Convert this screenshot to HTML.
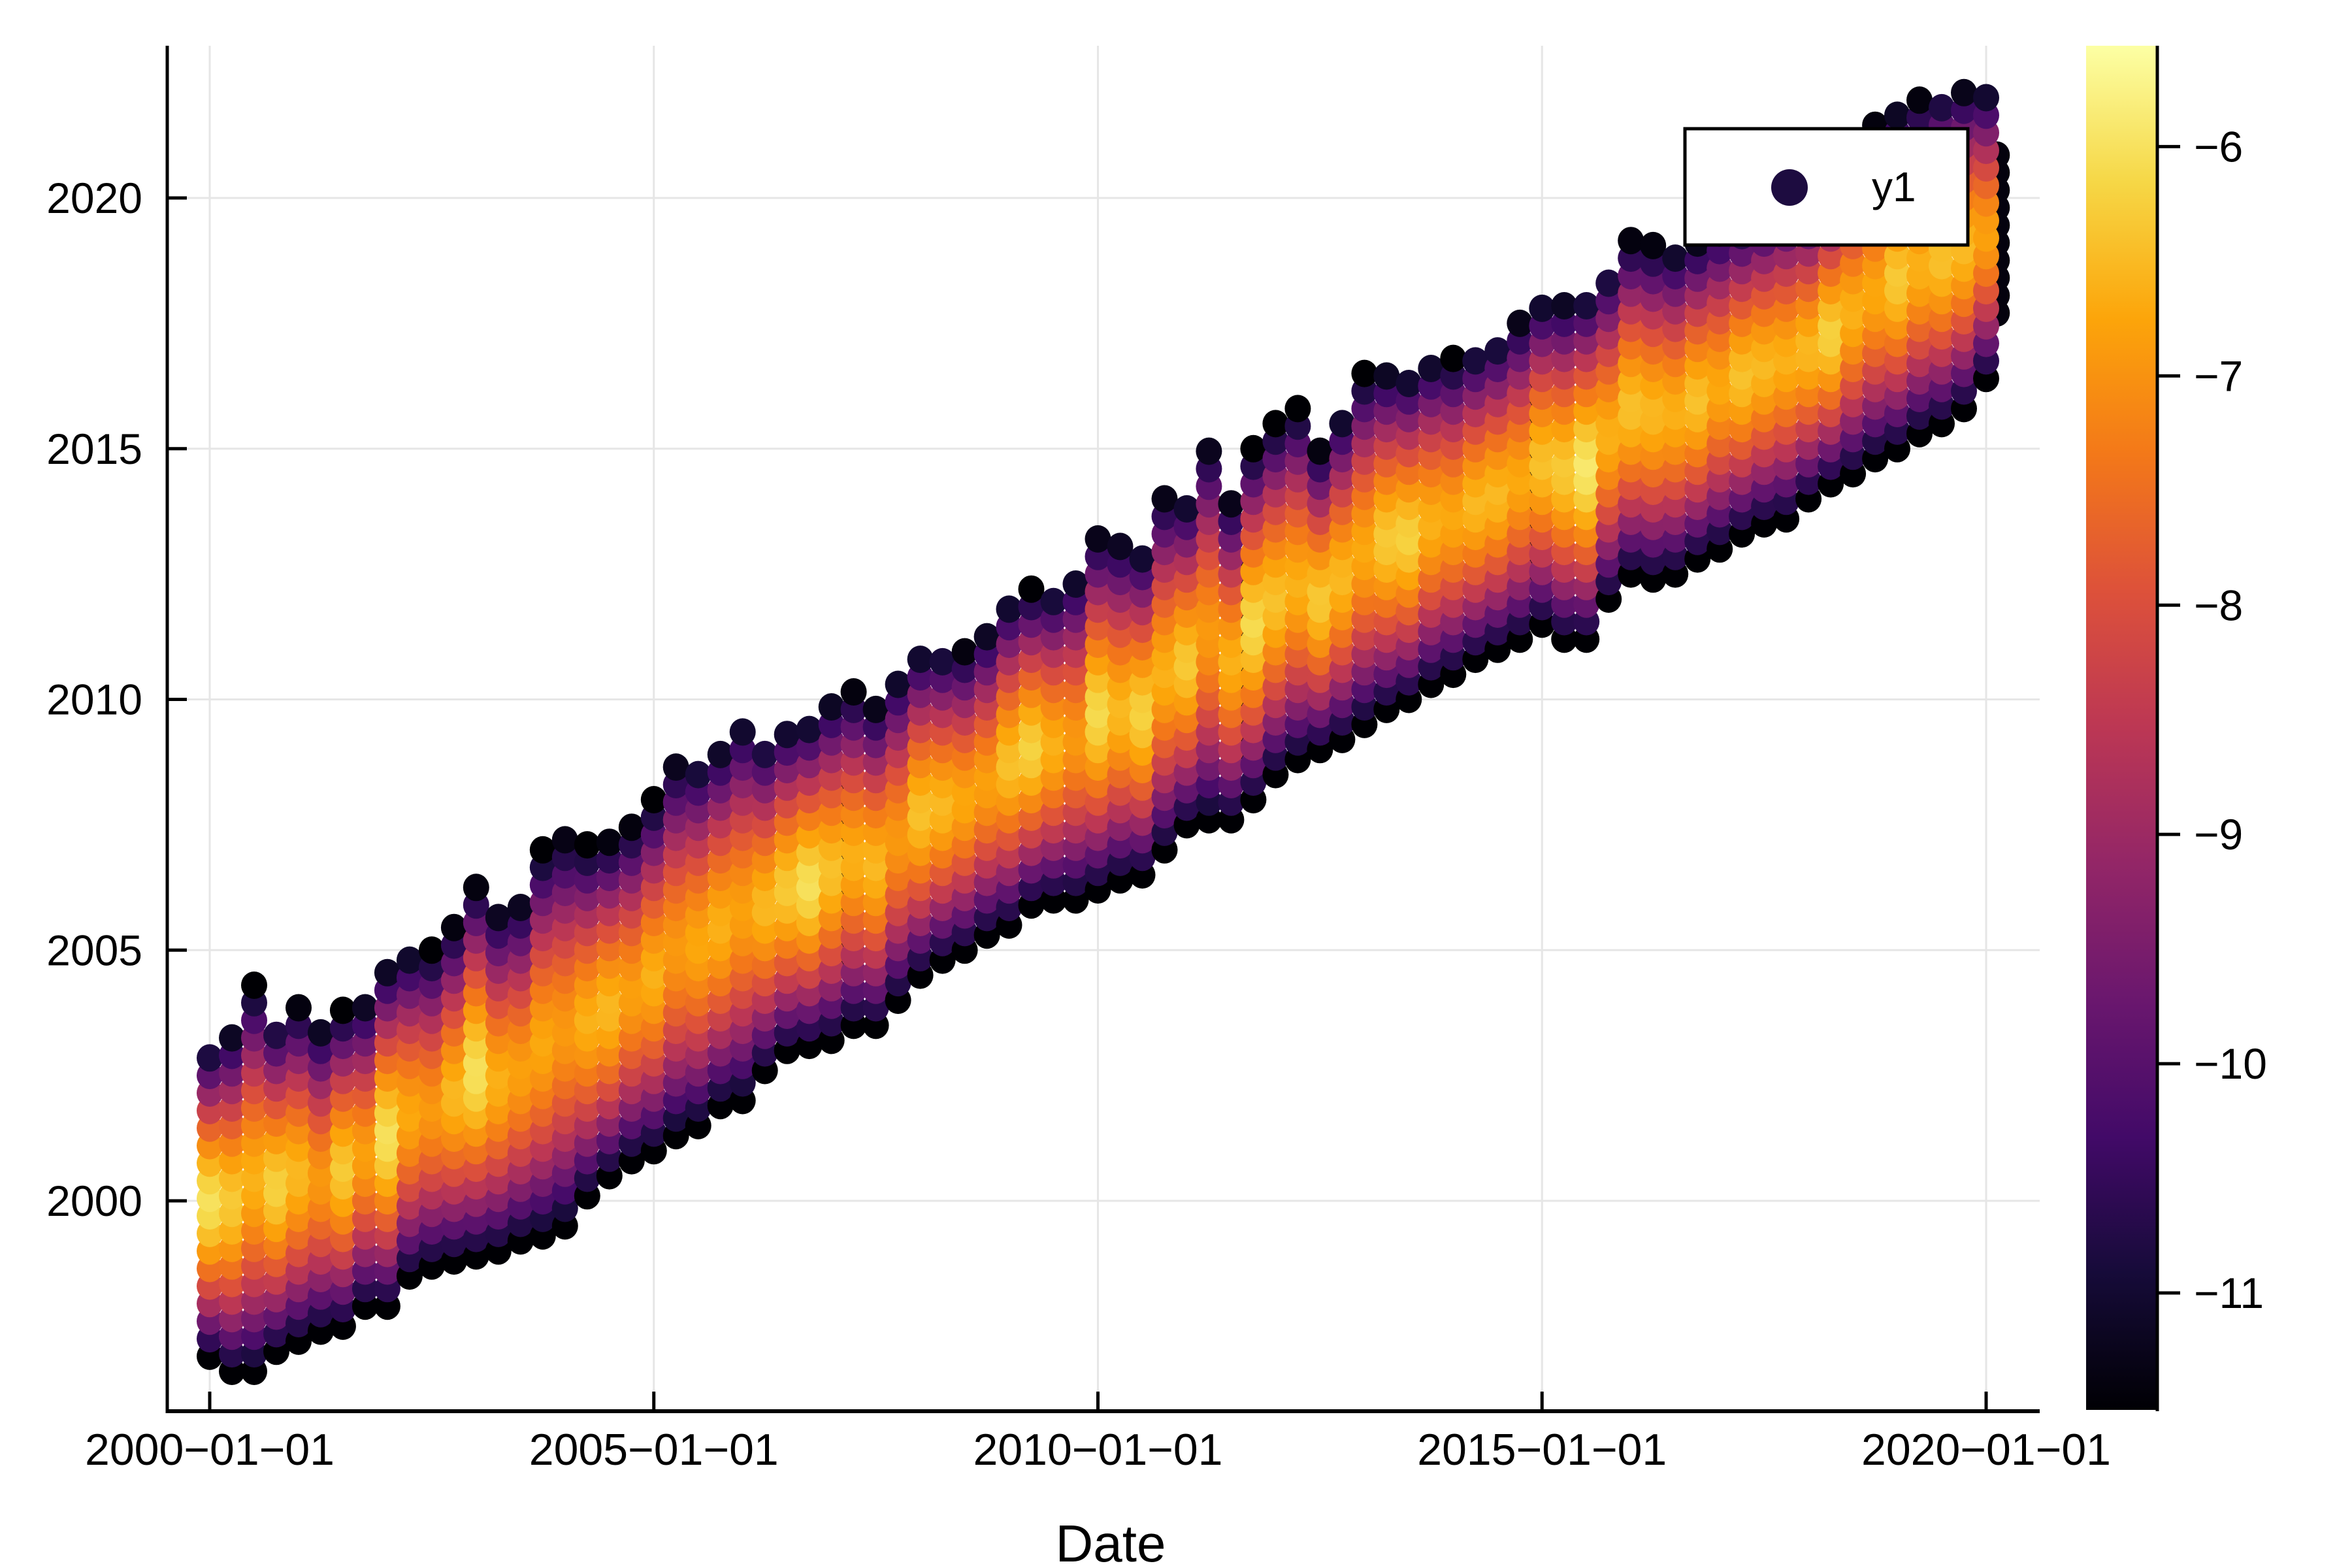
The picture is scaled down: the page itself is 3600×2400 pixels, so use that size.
<!DOCTYPE html>
<html><head><meta charset="utf-8"><style>
html,body{margin:0;padding:0;background:#fff}
svg{display:block}
text{font-family:"Liberation Sans",sans-serif;fill:#000}
</style></head><body>
<svg id="chart" width="3600" height="2400" viewBox="0 0 3600 2400" xmlns="http://www.w3.org/2000/svg">
<defs>
<linearGradient id="inferno" x1="0" y1="1" x2="0" y2="0">
<stop offset="0" stop-color="#000004"/><stop offset="0.1" stop-color="#160b39"/><stop offset="0.2" stop-color="#420a68"/><stop offset="0.3" stop-color="#6a176e"/><stop offset="0.4" stop-color="#932667"/><stop offset="0.5" stop-color="#bc3754"/><stop offset="0.6" stop-color="#dd513a"/><stop offset="0.7" stop-color="#f37819"/><stop offset="0.8" stop-color="#fca50a"/><stop offset="0.9" stop-color="#f6d746"/><stop offset="1" stop-color="#fcffa4"/>
</linearGradient>
<clipPath id="plotclip"><rect x="256" y="70" width="2866" height="2090"/></clipPath>
</defs>
<g id="grid"></g>
<g id="points" clip-path="url(#plotclip)"></g>
<g id="axes"></g>
<g id="legend">
<rect x="2579" y="197" width="433" height="178" fill="#fff" stroke="#000" stroke-width="5"/>
<ellipse cx="2739" cy="287" rx="28" ry="28" fill="#1d0c40"/>
<text x="2865" y="308" font-size="64">y1</text>
</g>
<g id="cbar">
<rect x="3193" y="70" width="109" height="2088" fill="url(#inferno)"/>
<line x1="3302" y1="70" x2="3302" y2="2160" stroke="#000" stroke-width="5"/>
</g>
<text x="1700" y="2390" font-size="80" text-anchor="middle">Date</text>
</svg>
<script>
// ---- data ----
const quarterStart = 2000.0; // first column (decimal year), step 0.25
const colLow = [1996.9,1996.6,1996.6,1997.0,1997.2,1997.4,1997.5,1997.9,1997.9,1998.5,1998.7,1998.8,1998.9,1999.0,1999.2,1999.3,1999.5,2000.1,2000.5,2000.8,2001.0,2001.3,2001.5,2001.9,2002.0,2002.6,2003.0,2003.1,2003.2,2003.5,2003.5,2004.0,2004.5,2004.8,2005.0,2005.3,2005.5,2005.9,2006.0,2006.0,2006.2,2006.4,2006.5,2007.0,2007.5,2007.6,2007.6,2008.0,2008.5,2008.8,2009.0,2009.2,2009.5,2009.8,2010.0,2010.3,2010.5,2010.8,2011.0,2011.2,2011.5,2011.2,2011.2,2012.0,2012.5,2012.4,2012.5,2012.8,2013.0,2013.3,2013.5,2013.6,2014.0,2014.3,2014.5,2014.8,2015.0,2015.3,2015.5,2015.8,2016.4];
const colHigh = [2003.1,2003.4,2004.3,2003.6,2003.9,2003.5,2003.8,2004.0,2004.7,2005.0,2005.0,2005.5,2006.3,2005.8,2006.0,2007.0,2007.3,2007.1,2007.2,2007.5,2008.0,2008.8,2008.8,2009.1,2009.6,2009.2,2009.5,2009.6,2010.0,2010.2,2009.9,2010.5,2011.0,2011.0,2011.0,2011.4,2012.0,2012.2,2012.2,2012.5,2013.3,2013.2,2013.0,2014.1,2014.0,2015.1,2014.0,2015.0,2015.5,2015.8,2015.0,2015.7,2016.5,2016.6,2016.5,2016.8,2016.8,2017.0,2017.2,2017.6,2018.0,2018.0,2018.1,2018.6,2019.2,2019.1,2019.0,2019.2,2019.5,2019.6,2019.8,2020.0,2020.0,2020.3,2021.0,2021.5,2021.8,2022.0,2022.1,2022.2,2022.2];
const colPeak = [-6.0,-6.3,-6.6,-6.2,-6.5,-6.9,-6.3,-6.8,-6.0,-6.7,-6.9,-6.5,-6.0,-6.6,-6.8,-6.7,-6.9,-6.6,-6.5,-6.8,-6.6,-6.9,-6.7,-6.6,-6.8,-6.5,-6.3,-6.0,-6.4,-6.6,-6.5,-6.9,-6.4,-6.5,-6.7,-6.8,-6.4,-6.2,-6.6,-6.9,-6.1,-6.5,-6.2,-6.6,-6.3,-6.9,-6.6,-6.1,-6.4,-6.6,-6.3,-6.5,-6.7,-6.3,-6.2,-6.6,-6.7,-6.5,-6.5,-6.7,-6.4,-6.3,-5.9,-6.6,-6.4,-6.5,-6.6,-6.4,-6.7,-6.4,-6.5,-6.6,-6.5,-6.2,-6.6,-6.7,-6.3,-6.6,-6.4,-6.5,-6.8];
const darkCols = [3,5,12,27,28,41,44,46,53,59,65,80];
const yTicks = [2000,2005,2010,2015,2020];
const xTickLabels = ["2000-01-01","2005-01-01","2010-01-01","2015-01-01","2020-01-01"];
const xTickYears = [2000,2005,2010,2015,2020];
const cTicks = [-6,-7,-8,-9,-10,-11];
// ---- scales ----
const X0=321, X1=3040, Y2000=1838, PXY=76.75;
const zMin=-11.51, zMax=-5.56, CB_TOP=70, CB_BOT=2158;
const xs = yr => X0 + (yr-2000)/20*(X1-X0);
const ys = v => Y2000 - (v-2000)*PXY;
const cs = z => CB_BOT - (z-zMin)/(zMax-zMin)*(CB_BOT-CB_TOP);
const stops=[[0,0,4],[22,11,57],[66,10,104],[106,23,110],[147,38,103],[188,55,84],[221,81,58],[243,120,25],[252,165,10],[246,215,70],[252,255,164]];
function color(z){let t=(z-zMin)/(zMax-zMin);t=Math.max(0,Math.min(1,t))*10;const i=Math.min(9,Math.floor(t)),f=t-i;const a=stops[i],b=stops[i+1];return `rgb(${Math.round(a[0]+(b[0]-a[0])*f)},${Math.round(a[1]+(b[1]-a[1])*f)},${Math.round(a[2]+(b[2]-a[2])*f)})`;}
const NS="http://www.w3.org/2000/svg";
function mk(tag,attrs,parent){const e=document.createElementNS(NS,tag);for(const k in attrs)e.setAttribute(k,attrs[k]);parent.appendChild(e);return e;}
const grid=document.getElementById('grid'),axes=document.getElementById('axes'),pts=document.getElementById('points'),cbar=document.getElementById('cbar');
yTicks.forEach(v=>{
  const l=mk('line',{x1:256,x2:3122,y1:ys(v),y2:ys(v),stroke:'#e6e6e6','stroke-width':3},grid);
  
  
  const t=mk('line',{x1:256,x2:286,y1:ys(v),y2:ys(v),stroke:'#000','stroke-width':5},axes);
  
  
  const tx=mk('text',{x:218,y:ys(v)+23,'font-size':66,'text-anchor':'end'},axes);
  tx.textContent=String(v);
  
  
});
xTickYears.forEach((yr,i)=>{
  const l=mk('line',{x1:xs(yr),x2:xs(yr),y1:70,y2:2160,stroke:'#e6e6e6','stroke-width':3},grid);
  
  
  const t=mk('line',{x1:xs(yr),x2:xs(yr),y1:2130,y2:2160,stroke:'#000','stroke-width':5},axes);
  
  
  const tx=mk('text',{x:xs(yr),y:2242,'font-size':68,'text-anchor':'middle'},axes);
  tx.textContent=xTickLabels[i].replace(/-/g,'\u2212');
  
  
});
const ya=mk('line',{x1:256,x2:256,y1:70,y2:2163,stroke:'#000','stroke-width':5},axes);


const xa=mk('line',{x1:254,x2:3122,y1:2160,y2:2160,stroke:'#000','stroke-width':6},axes);


cTicks.forEach(v=>{
  const t=mk('line',{x1:3302,x2:3337,y1:cs(v),y2:cs(v),stroke:'#000','stroke-width':5},cbar);
  
  
  const tx=mk('text',{x:3358,y:cs(v)+23,'font-size':66},cbar);
  tx.textContent='\u2212'+Math.abs(v);
  
  
});
// dark streak columns drawn first (partly hidden beneath main columns)
darkCols.forEach(i=>{
  const lo=colLow[i],hi=colHigh[i],yr=quarterStart+i*0.25+0.12;
  const c=(lo+hi)/2,h=(hi-lo)/2;
  for(let y=c-h*0.55;y<=c+h*0.55;y+=0.35){
    const e=mk('ellipse',{cx:xs(yr).toFixed(1),cy:ys(y).toFixed(1),rx:20,ry:21,fill:color(-11.4)},pts);
    
    
  }
});
// main points
colLow.forEach((lo,i)=>{
  const hi=colHigh[i],pk=colPeak[i],yr=quarterStart+i*0.25;
  const c=(lo+hi)/2,h=(hi-lo)/2;
  for(let y=lo;y<=hi+1e-6;y+=0.35){
    const t=Math.abs(y-c)/h;
    const z=pk-(pk-zMin)*Math.pow(t,1.6);
    const e=mk('ellipse',{cx:xs(yr).toFixed(1),cy:ys(y).toFixed(1),rx:20,ry:21,fill:color(z)},pts);
    
    
  }
});
</script>
</body></html>
